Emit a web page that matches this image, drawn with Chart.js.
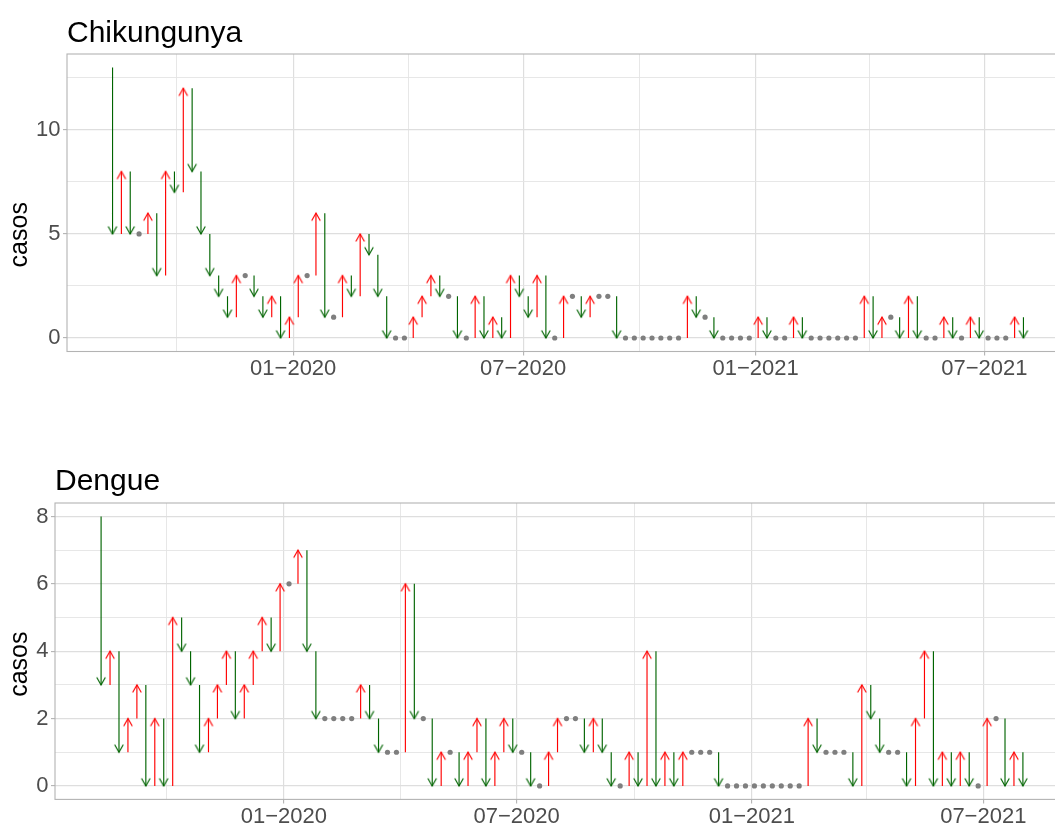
<!DOCTYPE html>
<html>
<head>
<meta charset="utf-8">
<script src="https://cdn.jsdelivr.net/npm/chart.js@4/dist/chart.umd.min.js"></script>
<style>
html,body{margin:0;padding:0;background:#fff;overflow:hidden;width:1055px;height:825px;}
#c1{position:absolute;left:0;top:0;}
#c2{position:absolute;left:0;top:412px;}
</style>
</head>
<body>
<canvas id="c1" width="1075" height="412"></canvas>
<canvas id="c2" width="1075" height="430"></canvas>
<script>
// ---------- data ----------
const firstWeek = '2019-08-11';          // first plotted epidemiological week
const weekCount = 104;
const chikPrev = 13;                      // value of the week before the first plotted week
const chik = [5,8,5,5,6,3,8,7,12,8, 5,3,2,1,3,3,2,1,2,0, 1,3,3,6,1,1,3,2,5,4,
              2,0,0,0,1,2,3,2,2,0, 0,2,0,1,0,3,2,1,3,0, 0,2,2,1,2,2,2,0,0,0,
              0,0,0,0,0,2,1,1,0,0, 0,0,0,1,0,0,0,1,0,0, 0,0,0,0,0,2,0,1,1,0,
              2,0,0,0,1,0,0,1,0,0, 0,0,1,0];
const denguePrev = 8;
const dengue = [3,4,1,2,3,0,2,0,5,4, 3,1,2,3,4,2,3,4,5,4, 6,6,7,4,2,2,2,2,2,3,
                2,1,1,1,6,2,2,0,1,1, 0,1,2,0,1,2,1,1,0,0, 1,2,2,2,1,2,1,0,0,1,
                0,4,0,1,0,1,1,1,1,0, 0,0,0,0,0,0,0,0,0,2, 1,1,1,1,0,3,2,1,1,1,
                0,2,4,0,1,0,1,0,0,2, 2,0,1,0];
const xTickDates  = ['2019-10-01','2020-01-01','2020-04-01','2020-07-01','2020-10-01','2021-01-01','2021-04-01','2021-07-01'];
const xTickLabels = ['', '01\u22122020', '', '07\u22122020', '', '01\u22122021', '', '07\u22122021'];
const chikYMajor = [0,5,10];
const chikYMinor = [2.5,7.5,12.5];
const dengueYMajor = [0,2,4,6,8];
const dengueYMinor = [1,3,5,7];

// ---------- helpers ----------
const FONT = "'Liberation Sans', Arial, sans-serif";
const RED = '#FF0000', GREEN = '#006400', GREY = '#7F7F7F';
const toDay = s => Date.parse(s + 'T00:00:00Z') / 86400000;
const day0 = toDay(firstWeek);
const weekDays = [];
for (let i = 0; i < weekCount; i++) weekDays.push(day0 + 7 * i);
const xTickDays = xTickDates.map(toDay);
const xLabelOf = {};
xTickDays.forEach((d, i) => { xLabelOf[d] = xTickLabels[i]; });
const span = weekDays[weekDays.length - 1] - weekDays[0];
const xMin = weekDays[0] - 0.05 * span, xMax = weekDays[weekDays.length - 1] + 0.05 * span;

function chevron(color) {
  const c = document.createElement('canvas');
  c.width = 20; c.height = 20;
  const g = c.getContext('2d');
  const L = 8.6, a = Math.PI / 6;
  g.strokeStyle = color; g.lineWidth = 1.15; g.lineJoin = 'miter'; g.lineCap = 'butt';
  g.beginPath();
  g.moveTo(10 - L * Math.sin(a), 10 + L * Math.cos(a));
  g.lineTo(10, 10);
  g.lineTo(10 + L * Math.sin(a), 10 + L * Math.cos(a));
  g.stroke();
  return c;
}
const headRed = chevron(RED), headGreen = chevron(GREEN);

function buildDatasets(prev0, vals) {
  const upLine = [], downLine = [], upHead = [], downHead = [], same = [];
  let prev = prev0;
  vals.forEach((v, i) => {
    const x = weekDays[i];
    if (v > prev) { upLine.push({x, y: prev}, {x, y: v}, {x, y: null}); upHead.push({x, y: v}); }
    else if (v < prev) { downLine.push({x, y: prev}, {x, y: v}, {x, y: null}); downHead.push({x, y: v}); }
    else same.push({x, y: v});
    prev = v;
  });
  return [
    {type: 'line', data: upLine, borderColor: RED, borderWidth: 1.15, pointRadius: 0, spanGaps: false, fill: false},
    {type: 'line', data: downLine, borderColor: GREEN, borderWidth: 1.15, pointRadius: 0, spanGaps: false, fill: false},
    {type: 'scatter', data: upHead, pointStyle: headRed, pointRadius: 4, rotation: 0},
    {type: 'scatter', data: downHead, pointStyle: headGreen, pointRadius: 4, rotation: 180},
    {type: 'scatter', data: same, pointStyle: 'circle', pointRadius: 2.6, backgroundColor: GREY, borderWidth: 0}
  ];
}

const panelBorder = {
  id: 'panelBorder',
  afterDatasetsDraw(chart) {
    const {ctx, chartArea: a} = chart;
    ctx.save();
    ctx.strokeStyle = '#B3B3B3';
    ctx.lineWidth = 1.1;
    ctx.strokeRect(a.left, a.top, a.right - a.left, a.bottom - a.top);
    ctx.restore();
  }
};

function makeChart(id, title, prev0, vals, yMin, yMax, yMajor, yMinor, opt) {
  const yAll = yMajor.concat(yMinor).sort((p, q) => p - q);
  return new Chart(document.getElementById(id), {
    type: 'scatter',
    data: {datasets: buildDatasets(prev0, vals)},
    plugins: [panelBorder],
    options: {
      responsive: false, animation: false, events: [],
      layout: {padding: {left: 0, right: 6, top: 0, bottom: 0}},
      plugins: {
        legend: {display: false}, tooltip: {enabled: false},
        title: {display: true, text: title, align: 'start', fullSize: false, color: '#000',
                font: {family: FONT, size: 30, weight: 'normal', lineHeight: 1.2},
                padding: {top: opt.titleTop, bottom: opt.titleBottom}}
      },
      scales: {
        x: {
          type: 'linear', min: xMin, max: xMax,
          afterBuildTicks: s => { s.ticks = xTickDays.map(v => ({value: v})); },
          afterFit: s => { s.height = opt.xHeight; },
          border: {display: false},
          grid: {
            color: c => (xLabelOf[c.tick && c.tick.value] ? '#DEDEDE' : '#E4E4E4'),
            lineWidth: c => (xLabelOf[c.tick && c.tick.value] ? 1.2 : 0.9),
            tickColor: c => (xLabelOf[c.tick && c.tick.value] ? '#B3B3B3' : 'rgba(0,0,0,0)'),
            tickLength: 4, tickWidth: 1.1
          },
          ticks: {autoSkip: false, maxRotation: 0, minRotation: 0, padding: 2.5, color: '#4D4D4D',
                  font: {family: FONT, size: 22, lineHeight: 1},
                  callback: v => xLabelOf[v] || ''}
        },
        y: {
          type: 'linear', min: yMin, max: yMax,
          afterBuildTicks: s => { s.ticks = yAll.map(v => ({value: v})); },
          afterFit: s => {
            s.width = opt.yWidth;
            if (!s._shifted) {
              const base = s.drawTitle;
              s.drawTitle = function () {
                this.ctx.save();
                this.ctx.translate(0, opt.yTitleShift);
                base.call(this);
                this.ctx.restore();
              };
              s._shifted = true;
            }
          },
          border: {display: false},
          grid: {
            color: c => (yMajor.includes(c.tick && c.tick.value) ? '#DEDEDE' : '#E4E4E4'),
            lineWidth: c => (yMajor.includes(c.tick && c.tick.value) ? 1.2 : 0.9),
            tickColor: c => (yMajor.includes(c.tick && c.tick.value) ? '#B3B3B3' : 'rgba(0,0,0,0)'),
            tickLength: 4, tickWidth: 1.1
          },
          ticks: {autoSkip: false, padding: 2.5, color: '#4D4D4D',
                  font: {family: FONT, size: 22, lineHeight: 1.2},
                  callback: v => (yMajor.includes(v) ? String(v) : '')},
          title: {display: true, text: 'casos', color: '#000',
                  font: {family: FONT, size: 25, lineHeight: 1.2}, padding: {top: 5, bottom: 0}}
        }
      }
    }
  });
}

makeChart('c1', 'Chikungunya', chikPrev, chik, -0.65, 13.65, chikYMajor, chikYMinor,
          {titleTop: 16, titleBottom: 2, xHeight: 60.5, yWidth: 67, yTitleShift: 32});
makeChart('c2', 'Dengue', denguePrev, dengue, -0.4, 8.4, dengueYMajor, dengueYMinor,
          {titleTop: 51.3, titleBottom: 3.7, xHeight: 42.6, yWidth: 55, yTitleShift: 13});
</script>
</body>
</html>
